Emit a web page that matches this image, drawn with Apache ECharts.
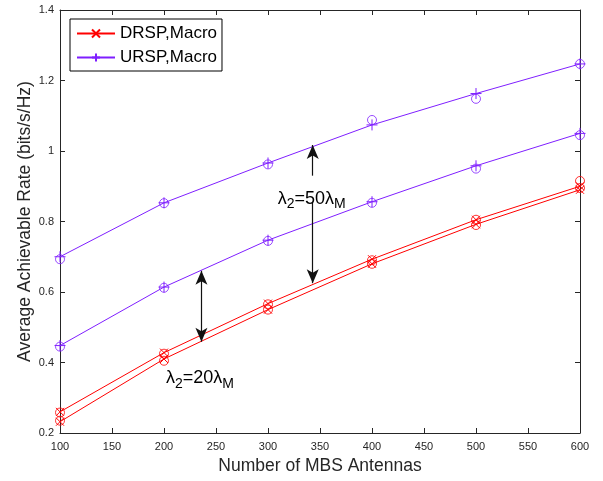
<!DOCTYPE html>
<html><head><meta charset="utf-8">
<script src="https://cdn.jsdelivr.net/npm/echarts@6/dist/echarts.min.js"></script>
<style>html,body{margin:0;padding:0;background:#fff}#c{width:603px;height:481px}</style>
</head><body><div id="c"></div>
<script>
var antennas = [100, 200, 300, 400, 500, 600];
var xTicks = [100,150,200,250,300,350,400,450,500,550,600];
var yTicks = [0.2,0.4,0.6,0.8,1,1.2,1.4];
// analytical curves
var ursp50 = [0.700, 0.853, 0.966, 1.074, 1.163, 1.247];
var ursp20 = [0.448, 0.614, 0.747, 0.856, 0.958, 1.050];
var drsp50 = [0.260, 0.428, 0.567, 0.693, 0.805, 0.900];
var drsp20 = [0.232, 0.410, 0.550, 0.680, 0.792, 0.890];
// simulation points (circles)
var simUrsp50 = [0.693, 0.852, 0.962, 1.088, 1.148, 1.247];
var simUrsp20 = [0.445, 0.612, 0.745, 0.853, 0.950, 1.045];
var simDrsp50 = [0.258, 0.425, 0.565, 0.690, 0.805, 0.915];
var simDrsp20 = [0.235, 0.405, 0.550, 0.680, 0.790, 0.895];

var RED = '#FF0000', PURPLE = '#7F1FFF';
var FONT = 'Liberation Sans, Arial, sans-serif';
var XSYM = 'path://M0,0L10,10M10,0L0,10';
var PSYM = 'path://M5,0L5,10M0,5L10,5';

function pairs(v){ return antennas.map(function(a,i){return [a,v[i]];}); }
function lineSeries(name, vals, color, sym, size){
  return {name:name, type:'line', data:pairs(vals), symbol:sym, symbolSize:size,
    showAllSymbol:true, lineStyle:{color:color,width:1},
    itemStyle:{color:'rgba(0,0,0,0)', borderColor:color, borderWidth:1},
    emphasis:{disabled:true}, animation:false, z:3};
}
function simSeries(vals, color){
  return {name:'sim', type:'scatter', data:pairs(vals), symbol:'circle', symbolSize:9,
    itemStyle:{color:'rgba(0,0,0,0)', borderColor:color, borderWidth:1},
    emphasis:{disabled:true}, animation:false, z:4};
}
var arrowStyle = {color:'#111', width:1.2, type:'solid'};
var sub = {
  l:{fontSize:18, fontFamily:FONT, color:'#000'},
  s:{fontSize:14, fontFamily:FONT, color:'#000', padding:[12,0,0,0]},
  n:{fontSize:18, fontFamily:FONT, color:'#000'}
};
var annoSeries = {
  name:'anno', type:'line', data:[], symbol:'none', silent:true, animation:false,
  markLine:{silent:true, animation:false, symbol:['none','arrow'], symbolSize:[9,14],
    label:{show:false}, lineStyle:arrowStyle,
    data:[
      [{coord:[343, 0.93]},{coord:[343, 1.017]}],
      [{coord:[343, 0.855]},{coord:[343, 0.625]}],
      [{coord:[236, 0.459], symbol:'arrow'},{coord:[236, 0.660], symbol:'arrow'}]
    ]},
  markPoint:{silent:true, animation:false, symbol:'circle', symbolSize:0,
    label:{show:true, position:'inside', rich:sub},
    data:[
      {coord:[342, 0.865], label:{formatter:'{l|λ}{s|2}{n|=50}{l|λ}{s|M}'}},
      {coord:[234.6, 0.355], label:{formatter:'{l|λ}{s|2}{n|=20}{l|λ}{s|M}'}}
    ]}
};
var axisCol = '#262626';
var option = {
  backgroundColor:'#fff',
  animation:false,
  grid:{left:60, right:23, top:10, bottom:48, containLabel:false},
  legend:{
    data:[{name:'DRSP,Macro'},{name:'URSP,Macro'}],
    orient:'vertical', left:70, top:19, itemGap:7, itemWidth:38, itemHeight:10,
    padding:[6,5,5,6], borderColor:'#000', borderWidth:1, backgroundColor:'#fff',
    textStyle:{fontFamily:FONT, fontSize:17, color:'#000'}, selectedMode:false
  },
  xAxis:[{type:'value', min:100, max:600, interval:50,
      axisLine:{lineStyle:{color:axisCol}}, axisTick:{inside:true, length:5, lineStyle:{color:axisCol}},
      splitLine:{show:false}, axisLabel:{color:'#262626', fontFamily:FONT, fontSize:11, margin:8},
      name:'Number of MBS Antennas', nameLocation:'middle', nameGap:22,
      nameTextStyle:{fontFamily:FONT, fontSize:17.5, color:'#262626', verticalAlign:'top'}},
    {type:'value', position:'top', min:100, max:600, interval:50,
      axisLine:{show:true, lineStyle:{color:axisCol}}, axisTick:{inside:true, length:5, lineStyle:{color:axisCol}},
      axisLabel:{show:false}, splitLine:{show:false}}],
  yAxis:[{type:'value', min:0.2, max:1.4, interval:0.2,
      axisLine:{show:true, lineStyle:{color:axisCol}}, axisTick:{show:true, inside:true, length:5, lineStyle:{color:axisCol}},
      splitLine:{show:false}, axisLabel:{color:'#262626', fontFamily:FONT, fontSize:11, margin:6},
      name:'Average Achievable Rate (bits/s/Hz)', nameLocation:'middle', nameGap:26, nameMoveOverlap:false,
      nameTextStyle:{fontFamily:FONT, fontSize:17.5, color:'#262626'}},
    {type:'value', position:'right', min:0.2, max:1.4, interval:0.2,
      axisLine:{show:true, lineStyle:{color:axisCol}}, axisTick:{show:true, inside:true, length:5, lineStyle:{color:axisCol}},
      axisLabel:{show:false}, splitLine:{show:false}}],
  series:[
    lineSeries('DRSP,Macro', drsp50, RED, XSYM, 8),
    lineSeries('DRSP,Macro', drsp20, RED, XSYM, 8),
    lineSeries('URSP,Macro', ursp50, PURPLE, PSYM, 11),
    lineSeries('URSP,Macro', ursp20, PURPLE, PSYM, 11),
    simSeries(simDrsp50, RED), simSeries(simDrsp20, RED),
    simSeries(simUrsp50, PURPLE), simSeries(simUrsp20, PURPLE),
    annoSeries
  ]
};
var chart = echarts.init(document.getElementById('c'), null, {renderer:'canvas'});
chart.setOption(option);
</script></body></html>
